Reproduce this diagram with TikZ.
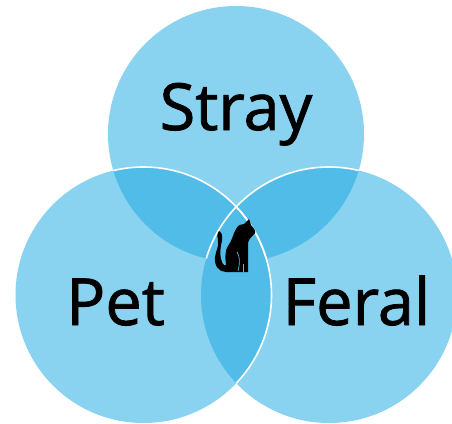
\documentclass[tikz,border=0pt]{standalone}
\usepackage{fontspec}
\newfontfamily\labelfont[RawFeature={embolden=1.2}]{Open Sans}
\definecolor{lightb}{HTML}{89D3F0}
\definecolor{darkb}{HTML}{52BCE9}
\tikzset{x=1pt,y=-1pt,
 setlabel/.style={font=\labelfont\fontsize{65}{65}\selectfont,text=black,inner sep=0pt,anchor=base},
 rim/.style={draw=white,line width=1.6pt}}
\def\circA{(236,134) circle[radius=128]}
\def\circB{(143.5,295) circle[radius=128]}
\def\circC{(329,295) circle[radius=128]}
\begin{document}
\begin{tikzpicture}
\useasboundingbox (0,0) rectangle (452,423);
\clip (0,0) rectangle (452,423);
\fill[lightb] \circA;
\fill[lightb] \circB;
\fill[lightb] \circC;
\begin{scope}\clip \circA; \fill[darkb] \circB; \fill[darkb] \circC;\end{scope}
\begin{scope}\clip \circB; \fill[darkb] \circC;\end{scope}
% white rims
\begin{scope}\clip \circA; \draw[rim] \circB; \draw[rim] \circC;\end{scope}
\begin{scope}\clip \circC; \draw[rim] \circB;\end{scope}
\node[setlabel] (stray) at (236,130) {Stray};
\node[setlabel] (pet) at (115.5,325) {Pet};
\node[setlabel] (feral) at (356.5,325) {Feral};
% cat
\fill[black] (249,219) -- (251,225) .. controls (254,228) and (256,232) .. (255,233)
 .. controls (252,237) and (249,238) .. (248,243) -- (248,272) -- (241,272) -- (240,272)
 -- (226,272) .. controls (219,272) and (214,266) .. (215,257)
 .. controls (216,250) and (219,247) .. (218,241) .. controls (218,237) and (216,235) .. (219,231)
 .. controls (223,233) and (223,238) .. (221,245) .. controls (220,251) and (220,258) .. (222,262)
 .. controls (223,265) and (225,266) .. (226,265) .. controls (225,258) and (225,250) .. (228,246)
 .. controls (232,241) and (233,234) .. (236,229) .. controls (238,225) and (241,224) .. (244,224) -- cycle;
\draw[darkb,line width=0.7pt] (237,252) .. controls (240,256) and (240,263) .. (238,271);
\draw[darkb,line width=0.6pt] (243,272) -- (243,264);
\end{tikzpicture}
\end{document}
